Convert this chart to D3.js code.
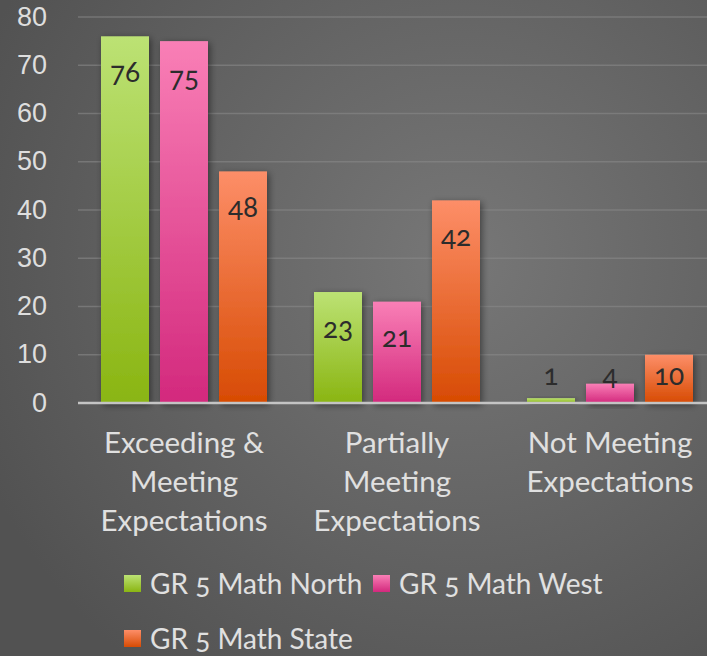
<!DOCTYPE html>
<html>
<head>
<meta charset="utf-8">
<script src="https://cdn.jsdelivr.net/npm/d3@7"></script>
<style>
  html, body { margin: 0; padding: 0; background: #5e5e5e; overflow: hidden; }
  svg { display: block; font-family: Lato, "Open Sans", sans-serif; font-variant-numeric: oldstyle-nums; }
</style>
</head>
<body>
<script>
// DATA
var categories = ["Exceeding & Meeting Expectations", "Partially Meeting Expectations", "Not Meeting Expectations"];
var categoryLines = [["Exceeding &", "Meeting", "Expectations"], ["Partially", "Meeting", "Expectations"], ["Not Meeting", "Expectations"]];
var seriesNames = ["GR 5 Math North", "GR 5 Math West", "GR 5 Math State"];
var north = [76, 23, 1];
var west = [75, 21, 4];
var state = [48, 42, 10];
var yTicks = [0, 10, 20, 30, 40, 50, 60, 70, 80];

var seriesValues = [north, west, state];
var colors = [
  { top: "#bce274", bottom: "#8ab512" },
  { top: "#f97fb6", bottom: "#d3297d" },
  { top: "#fd8e68", bottom: "#d74b03" }
];

var width = 707, height = 656;

var svg = d3.select("body").append("svg")
  .attr("width", width)
  .attr("height", height);

var defs = svg.append("defs");

// background gradient
var bg = defs.append("radialGradient")
  .attr("id", "bg")
  .attr("gradientUnits", "userSpaceOnUse")
  .attr("cx", 460).attr("cy", 260).attr("r", 520);
bg.append("stop").attr("offset", "0%").attr("stop-color", "#777777");
bg.append("stop").attr("offset", "100%").attr("stop-color", "#525252");

colors.forEach(function (c, i) {
  var g = defs.append("linearGradient")
    .attr("id", "bar" + i)
    .attr("x1", 0).attr("y1", 0).attr("x2", 0).attr("y2", 1);
  g.append("stop").attr("offset", "0%").attr("stop-color", c.top);
  g.append("stop").attr("offset", "100%").attr("stop-color", c.bottom);
});

var shadow = defs.append("filter")
  .attr("id", "shadow")
  .attr("x", "-30%").attr("y", "-30%").attr("width", "160%").attr("height", "160%");
shadow.append("feDropShadow")
  .attr("dx", 2).attr("dy", 2).attr("stdDeviation", 3.5)
  .attr("flood-color", "#000").attr("flood-opacity", 0.45);

svg.append("rect")
  .attr("width", width).attr("height", height)
  .attr("fill", "url(#bg)");

// scales
var x0 = d3.scaleBand()
  .domain(categories)
  .range([77.5, 716.5])
  .paddingInner(0)
  .paddingOuter(0);

var x1 = d3.scaleBand()
  .domain(d3.range(seriesNames.length))
  .range([23.5, x0.bandwidth() - 23.5])
  .paddingInner(11 / 59);

var y = d3.scaleLinear()
  .domain([0, 80])
  .range([403, 17]);

// gridlines
svg.append("g")
  .selectAll("line")
  .data(yTicks.slice(1))
  .join("line")
  .attr("x1", 78).attr("x2", width)
  .attr("y1", function (d) { return y(d); })
  .attr("y2", function (d) { return y(d); })
  .attr("stroke", "#888888")
  .attr("stroke-opacity", 0.6)
  .attr("stroke-width", 1.5);

// y axis labels
var yAxis = d3.axisLeft(y)
  .tickValues(yTicks)
  .tickSize(0)
  .tickPadding(0)
  .tickFormat(d3.format("d"));

var yG = svg.append("g")
  .attr("transform", "translate(47,0)")
  .call(yAxis);
yG.select(".domain").remove();
yG.selectAll("text")
  .attr("fill", "#dedede")
  .attr("font-size", 27)
  .attr("dy", "0.3em");

// bars
var groups = svg.append("g")
  .selectAll("g")
  .data(categories)
  .join("g")
  .attr("transform", function (d) { return "translate(" + x0(d) + ",0)"; });

var barData = function (d, ci) {
  return seriesValues.map(function (vals, si) {
    return { series: si, value: vals[ci] };
  });
};

groups.each(function (cat, ci) {
  var g = d3.select(this);
  var data = barData(cat, ci);

  g.selectAll("rect")
    .data(data)
    .join("rect")
    .attr("x", function (d) { return x1(d.series); })
    .attr("width", x1.bandwidth())
    .attr("y", function (d) { return y(d.value); })
    .attr("height", function (d) { return y(0) - y(d.value); })
    .attr("fill", function (d) { return "url(#bar" + d.series + ")"; })
    .attr("filter", "url(#shadow)");

  g.selectAll("text")
    .data(data)
    .join("text")
    .attr("x", function (d) { return x1(d.series) + x1.bandwidth() / 2; })
    .attr("y", function (d) { return Math.min(y(d.value) + 36, 375); })
    .attr("dy", "0.35em")
    .attr("text-anchor", "middle")
    .attr("font-size", 28)
    .attr("fill", "#2c2c2c")
    .text(function (d) { return d.value; });
});

// zero line
svg.append("line")
  .attr("x1", 78).attr("x2", width)
  .attr("y1", y(0)).attr("y2", y(0))
  .attr("stroke", "#c4c4c4")
  .attr("stroke-width", 2.5);

// category labels
svg.append("g")
  .selectAll("text")
  .data(categories)
  .join("text")
  .attr("x", function (d) { return x0(d) + x0.bandwidth() / 2; })
  .attr("y", 453)
  .attr("text-anchor", "middle")
  .attr("font-size", 29.5)
  .attr("fill", "#e0e0e0")
  .each(function (d, i) {
    var t = d3.select(this);
    categoryLines[i].forEach(function (line, li) {
      t.append("tspan")
        .attr("x", x0(d) + x0.bandwidth() / 2)
        .attr("dy", li === 0 ? 0 : 39)
        .text(line);
    });
  });

// legend
var legendPos = [[124, 575], [373, 575], [124, 630]];
var legend = svg.append("g")
  .selectAll("g")
  .data(seriesNames)
  .join("g")
  .attr("transform", function (d, i) { return "translate(" + legendPos[i][0] + "," + legendPos[i][1] + ")"; });

legend.append("rect")
  .attr("width", 17).attr("height", 17)
  .attr("fill", function (d, i) { return "url(#bar" + i + ")"; });

legend.append("text")
  .attr("x", 26)
  .attr("y", 8.5)
  .attr("dy", "0.36em")
  .attr("font-size", 28)
  .attr("fill", "#e0e0e0")
  .text(function (d) { return d; });
</script>
</body>
</html>
